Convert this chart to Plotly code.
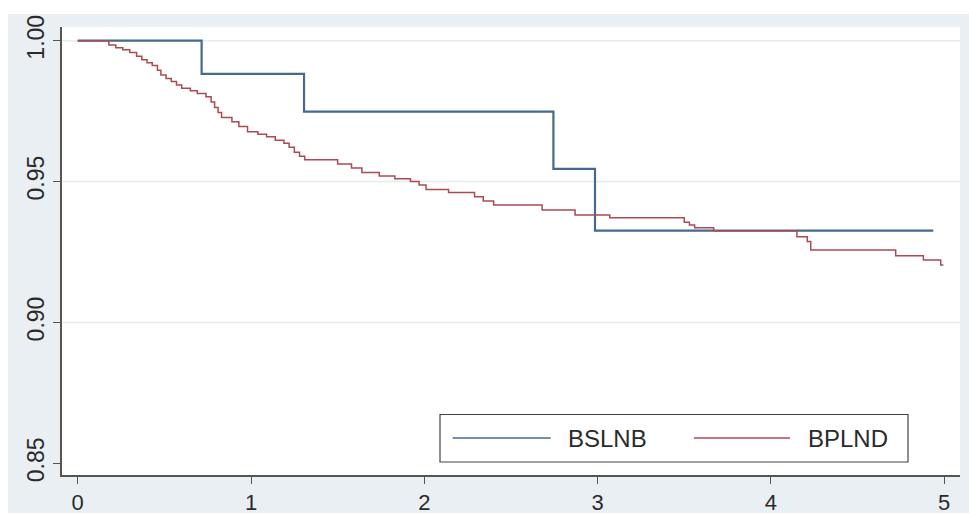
import plotly.graph_objects as go

# Kaplan-Meier survival estimates by group
bslnb_time = [0.0, 0.715, 1.306, 2.745, 2.985, 4.937]
bslnb_surv = [1.000, 0.9882, 0.9748, 0.9545, 0.9326, 0.9326]

bplnd_time = [0.0, 0.18, 0.22, 0.26, 0.30, 0.34, 0.37, 0.40, 0.43, 0.46, 0.48,
              0.51, 0.54, 0.57, 0.60, 0.65, 0.69, 0.74, 0.77, 0.79, 0.81, 0.83,
              0.89, 0.93, 0.98, 1.04, 1.09, 1.14, 1.19, 1.22, 1.25, 1.28, 1.31,
              1.50, 1.58, 1.64, 1.74, 1.83, 1.92, 1.97, 2.01, 2.14, 2.29, 2.34,
              2.40, 2.68, 2.87, 3.07, 3.50, 3.53, 3.56, 3.67, 4.15, 4.21, 4.23,
              4.72, 4.88, 4.98, 4.995]
bplnd_surv = [1.000, 0.9985, 0.9975, 0.9968, 0.9958, 0.9945, 0.9932, 0.9922,
              0.9912, 0.9895, 0.9878, 0.9866, 0.9855, 0.9843, 0.9831, 0.9822,
              0.9813, 0.9801, 0.9782, 0.9763, 0.9745, 0.9727, 0.9712, 0.9695,
              0.9677, 0.9668, 0.9659, 0.9647, 0.9636, 0.9622, 0.9604, 0.9590,
              0.9577, 0.9562, 0.9548, 0.9532, 0.9520, 0.9510, 0.9500, 0.9488,
              0.9472, 0.9461, 0.9446, 0.9431, 0.9417, 0.9399, 0.9381, 0.9372,
              0.9356, 0.9346, 0.9336, 0.9325, 0.9304, 0.9287, 0.9257, 0.9237,
              0.9222, 0.9204, 0.9204]

series_names = ["BSLNB", "BPLND"]
series_colors = ["#46698c", "#ad4a50"]

x_ticks = [0, 1, 2, 3, 4, 5]
y_ticks = [0.85, 0.90, 0.95, 1.00]
y_tick_labels = ["0.85", "0.90", "0.95", "1.00"]

W, H = 969, 513
ML, MR, MT, MB = 62, 9, 27, 38
PW, PH = W - ML - MR, H - MT - MB


def px_x(p):
    return (p - ML) / PW


def px_y(p):
    return (H - MB - p) / PH


fig = go.Figure()
fig.add_trace(go.Scatter(x=bslnb_time, y=bslnb_surv, mode="lines", line_shape="hv",
                         line=dict(color=series_colors[0], width=2.2),
                         name=series_names[0], showlegend=False))
fig.add_trace(go.Scatter(x=bplnd_time, y=bplnd_surv, mode="lines", line_shape="hv",
                         line=dict(color=series_colors[1], width=1.5),
                         name=series_names[1], showlegend=False))

shapes = []
# white strips around the grey graph region
shapes.append(dict(type="rect", xref="paper", yref="paper",
                   x0=px_x(-20), x1=px_x(W + 20), y0=px_y(14), y1=px_y(-20),
                   fillcolor="white", line_width=0, layer="below"))
shapes.append(dict(type="rect", xref="paper", yref="paper",
                   x0=px_x(-20), x1=px_x(8), y0=px_y(H + 20), y1=px_y(-20),
                   fillcolor="white", line_width=0, layer="below"))
# horizontal grid lines (none on the lowest tick)
for yv in y_ticks[1:]:
    shapes.append(dict(type="line", xref="paper", yref="y", x0=0, x1=1, y0=yv, y1=yv,
                       line=dict(color="#e6ecef", width=1.5), layer="below"))

# legend box
shapes.append(dict(type="rect", xref="paper", yref="paper",
                   x0=px_x(440), x1=px_x(908), y0=px_y(462), y1=px_y(414.5),
                   fillcolor="white", line=dict(color="#444444", width=1.2)))
leg_y = px_y(438)
sample_spans = [(452.6, 550.7), (694, 790)]
text_left = [566, 806]
annotations = []
for name, color, (a, b), tl in zip(series_names, series_colors, sample_spans, text_left):
    shapes.append(dict(type="line", xref="paper", yref="paper",
                       x0=px_x(a), x1=px_x(b), y0=leg_y, y1=leg_y,
                       line=dict(color=color, width=1.6)))
    annotations.append(dict(x=px_x(tl), y=leg_y, xref="paper", yref="paper",
                            text=name, showarrow=False, xanchor="left", yanchor="middle",
                            font=dict(size=24, color="#2b2b2b",
                                      family="Liberation Sans, Arial, sans-serif")))

fig.update_layout(
    width=W, height=H,
    margin=dict(l=ML, r=MR, t=MT, b=MB, pad=0, autoexpand=False),
    paper_bgcolor="#e9eff2",
    plot_bgcolor="white",
    shapes=shapes,
    annotations=annotations,
    font=dict(family="Liberation Sans, Arial, sans-serif", size=23, color="#2b2b2b"),
    showlegend=False,
    xaxis=dict(range=[(ML - 77.7) / 173.3, (W - MR - 77.7) / 173.3],
               tickvals=x_ticks, ticks="outside", ticklen=7, tickwidth=1.2,
               tickcolor="#555555", showgrid=False, zeroline=False,
               showline=True, linecolor="#555555", linewidth=1.5,
               automargin=False, tickfont=dict(size=22)),
    yaxis=dict(range=[0.84585, 1.00486], tickvals=y_ticks, ticktext=y_tick_labels,
               tickangle=-90, ticks="outside", ticklen=7, tickwidth=1.2,
               tickcolor="#555555", showgrid=False, zeroline=False,
               showline=True, linecolor="#555555", linewidth=1.5,
               automargin=False, tickfont=dict(size=23)),
)

fig.write_html("out.html")
